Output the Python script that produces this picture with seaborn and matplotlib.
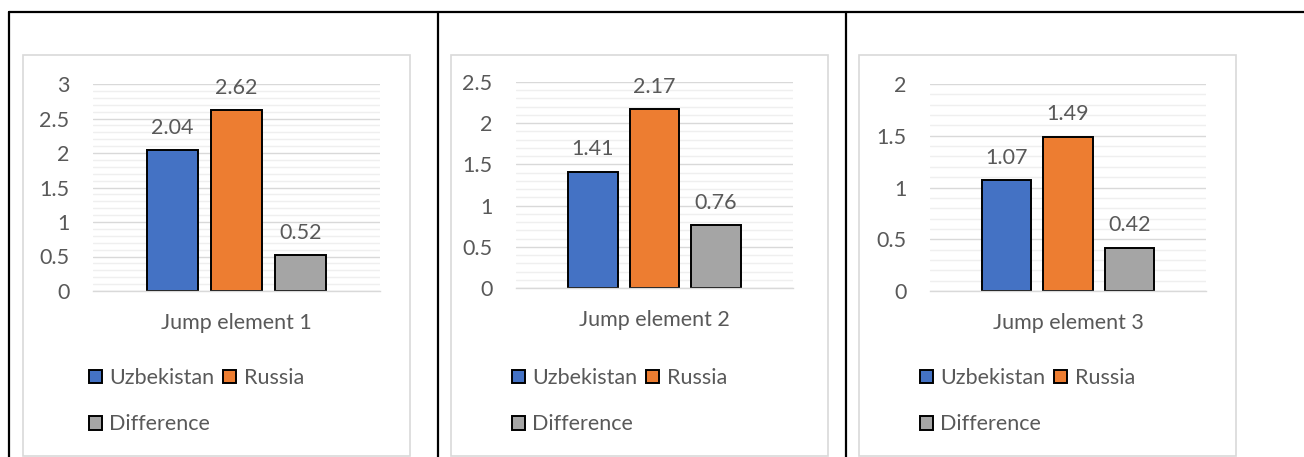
import matplotlib
matplotlib.use("Agg")
import matplotlib.pyplot as plt
from matplotlib.patches import Rectangle
from matplotlib.lines import Line2D
from matplotlib.ticker import MultipleLocator
import pandas as pd
import seaborn as sns

# ---- data -------------------------------------------------------------
elements = ["Jump element 1", "Jump element 2", "Jump element 3"]
series = ["Uzbekistan", "Russia", "Difference"]
uzbekistan = [2.04, 1.41, 1.07]
russia = [2.62, 2.17, 1.49]
difference = [0.52, 0.76, 0.42]
y_max = [3.0, 2.5, 2.0]

colors = ["#4472C4", "#ED7D31", "#A5A5A5"]
text_color = "#595959"

sns.set_style("white")
plt.rcParams["font.family"] = ["Lato", "DejaVu Sans"]

W, H = 1304, 457
fig = plt.figure(figsize=(W / 100, H / 100), dpi=100)


def fx(px):
    return px / W


def fy(py):
    return 1 - py / H


# table grid lines around the three cells
lw_table = 1.6
fig.add_artist(Line2D([fx(9), 1.0], [fy(12), fy(12)], color="black", lw=lw_table,
                      transform=fig.transFigure))
for xv in (9, 438, 846):
    fig.add_artist(Line2D([fx(xv), fx(xv)], [fy(12), 0.0], color="black", lw=lw_table,
                          transform=fig.transFigure))

# layout of each chart: chart frame, plot area, legend anchor (pixels)
frames = [(23, 55, 410, 456), (451, 55, 828, 456), (859, 55, 1236, 456)]
plots = [(93, 84, 380, 291), (516, 82, 793, 288), (930, 84, 1206, 291)]
legend_left = [89, 512, 920]

fs = 15.5

for i, elem in enumerate(elements):
    x0, y0, x1, y1 = frames[i]
    fig.add_artist(Rectangle((fx(x0), fy(y1)), fx(x1 - x0), (y1 - y0) / H,
                             transform=fig.transFigure, facecolor="none",
                             edgecolor="#d9d9d9", lw=1.2))

    px0, py0, px1, py1 = plots[i]
    ax = fig.add_axes([fx(px0), fy(py1), fx(px1 - px0), (py1 - py0) / H])
    ax.set_facecolor("none")

    df = pd.DataFrame({
        "element": [elem] * 3,
        "series": series,
        "value": [uzbekistan[i], russia[i], difference[i]],
    })
    sns.barplot(data=df, x="element", y="value", hue="series", hue_order=series,
                palette=colors, width=2 / 3, gap=0.2, edgecolor="black",
                linewidth=1.4, saturation=1, legend=False, ax=ax)

    for c in ax.containers:
        ax.bar_label(c, fmt="%.2f", padding=9, fontsize=fs, color=text_color)

    ax.set_xlim(-0.5, 0.5)
    ax.set_ylim(0, y_max[i])
    ax.yaxis.set_major_locator(MultipleLocator(0.5))
    ax.yaxis.set_minor_locator(MultipleLocator(0.1))
    ax.yaxis.set_major_formatter(plt.FuncFormatter(lambda v, p: f"{v:g}"))
    ax.grid(axis="y", which="major", color="#d9d9d9", lw=1.0)
    ax.grid(axis="y", which="minor", color="#efefef", lw=1.0)
    ax.set_axisbelow(True)
    for s in ("top", "right", "left"):
        ax.spines[s].set_visible(False)
    ax.spines["bottom"].set_color("#d9d9d9")
    ax.spines["bottom"].set_linewidth(1.0)
    ax.spines["bottom"].set_zorder(5)
    ax.tick_params(axis="y", which="both", length=0, pad=17, labelsize=fs,
                   labelcolor=text_color)
    ax.tick_params(axis="x", length=0, pad=16, labelsize=fs, labelcolor=text_color)
    ax.set_xlabel("")
    ax.set_ylabel("")

    handles = list(ax.containers)
    order = [0, 2, 1]
    ax.legend([handles[k] for k in order], [series[k] for k in order],
              loc="upper left",
              bbox_to_anchor=(fx(legend_left[i]), fy(368)),
              bbox_transform=fig.transFigure, ncol=2, frameon=False,
              fontsize=fs, labelcolor=text_color, borderpad=0,
              borderaxespad=0, handlelength=0.6, handleheight=0.6,
              handletextpad=0.35, labelspacing=1.23, columnspacing=0.4)

fig.savefig("out.png", dpi=100, facecolor="white")
